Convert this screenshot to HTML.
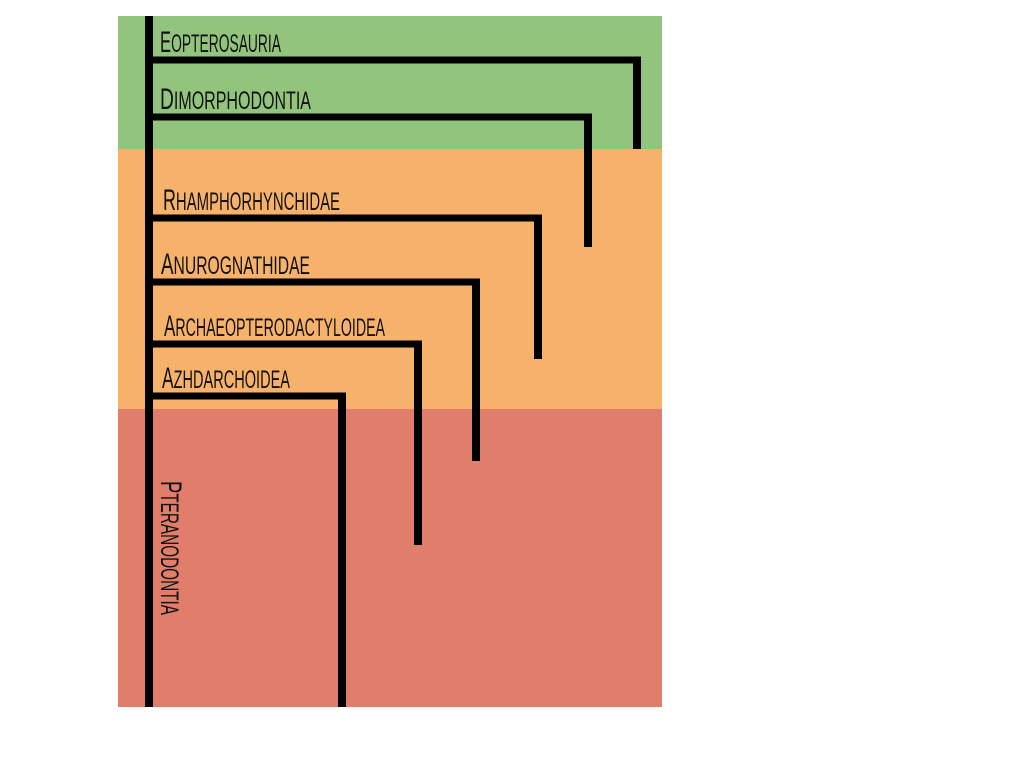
<!DOCTYPE html>
<html><head><meta charset="utf-8"><style>
html,body{margin:0;padding:0;background:#fff;width:1024px;height:768px;overflow:hidden}
text{font-family:"Liberation Sans Narrow","Liberation Sans",sans-serif;fill:#111}
</style></head><body>
<svg id="chart" width="1024" height="768" viewBox="0 0 1024 768">
<rect x="118" y="16" width="544" height="133" fill="#93c47d"/>
<rect x="118" y="149" width="544" height="260" fill="#f6b26b"/>
<rect x="118" y="409" width="544" height="298" fill="#e07d6b"/>
<rect x="145" y="16" width="8" height="691" fill="#000"/>
<g id="clades"></g>
<text transform="translate(161,481) rotate(90)" textLength="134" lengthAdjust="spacingAndGlyphs"><tspan font-size="30">P</tspan><tspan font-size="25">TERANODONTIA</tspan></text>
</svg>
<script>
const cladeNames=["Eopterosauria","Dimorphodontia","Rhamphorhynchidae","Anurognathidae","Archaeopterodactyloidea","Azhdarchoidea"];
const branchY=[60,117,218,282,344,396];
const branchEndX=[637,588,538,476,418,342];
const branchBottomY=[149,247,359,461,545,707];
const labelWidth=[121,151,177,149,221,128];
const labelX=[160,160,163,161,164,162];
const ns="http://www.w3.org/2000/svg";
const g=document.getElementById('clades');
cladeNames.forEach((n,i)=>{
  const h=document.createElementNS(ns,'rect');
  
  
  h.setAttribute('x',149);h.setAttribute('y',branchY[i]-3.5);
  h.setAttribute('width',branchEndX[i]-149+4);h.setAttribute('height',7);
  g.appendChild(h);
  const v=document.createElementNS(ns,'rect');
  
  
  v.setAttribute('x',branchEndX[i]-4);v.setAttribute('y',branchY[i]-3.5);
  v.setAttribute('width',8);v.setAttribute('height',branchBottomY[i]-branchY[i]+3.5);
  g.appendChild(v);
  const t=document.createElementNS(ns,'text');
  
  
  t.setAttribute('x',labelX[i]);t.setAttribute('y',branchY[i]-8);
  t.setAttribute('textLength',labelWidth[i]);
  t.setAttribute('lengthAdjust','spacingAndGlyphs');
  const a=document.createElementNS(ns,'tspan');
  a.setAttribute('font-size','30');
  a.textContent=n[0];
  const b=document.createElementNS(ns,'tspan');
  b.setAttribute('font-size','25');
  b.textContent=n.slice(1).toUpperCase();
  t.appendChild(a);t.appendChild(b);
  g.appendChild(t);
});
</script>
</body></html>
